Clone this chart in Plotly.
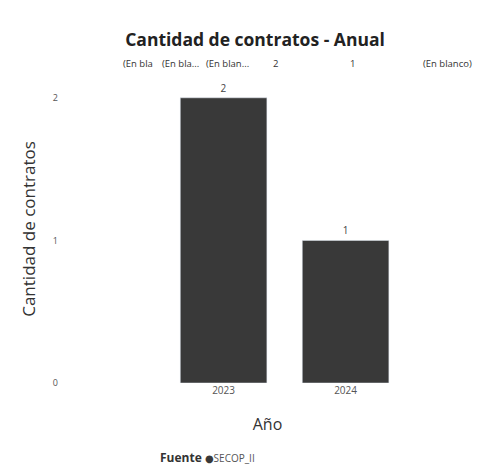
import plotly.graph_objects as go

years = ["2023", "2024"]
counts = [2, 1]
header_labels = ["(En bla", "(En bla...", "(En blan...", "2", "1", "(En blanco)"]
header_x = [138, 180, 227, 275, 352, 447]
legend_title = "Fuente"
legend_item = "SECOP_II"

bar_color = "#393939"
font_family = "Open Sans, DejaVu Sans, sans-serif"

L, R, T, B = 65, 30, 75, 92
W, H = 500, 475
pw, ph = W - L - R, H - T - B

fig = go.Figure()
fig.add_trace(go.Bar(
    x=years, y=counts, marker_color=bar_color, width=0.71,
    text=[str(c) for c in counts], textposition="outside",
    textfont=dict(size=10, color="#444"), cliponaxis=False,
    showlegend=False,
))

for lab, px in zip(header_labels, header_x):
    fig.add_annotation(text=lab, x=(px - L) / pw, y=(H - B - 63) / ph, xref="paper", yref="paper",
                       showarrow=False, font=dict(size=9.5, color="#333"),
                       xanchor="center", yanchor="middle")

fig.add_annotation(
    text=(f"<b>{legend_title}</b> <span style='color:{bar_color};font-size:10px'>●</span>"
          f"<span style='font-size:10px;color:#555'>{legend_item}</span>"),
    x=(207 - L) / pw, y=(H - B - 457) / ph, xref="paper", yref="paper",
    showarrow=False, font=dict(size=12, color="#333"), xanchor="center", yanchor="middle")

fig.update_layout(
    width=W, height=H,
    margin=dict(l=L, r=R, t=T, b=B, autoexpand=False),
    paper_bgcolor="white", plot_bgcolor="white",
    font=dict(family=font_family, color="#333"),
    title=dict(text="<b>Cantidad de contratos - Anual</b>", x=0.51, xanchor="center",
               y=1 - 40 / H, yanchor="middle", font=dict(size=17.5, color="#222")),
    xaxis=dict(type="category", range=[-1.3, 2.02], showgrid=False, zeroline=False,
               showline=False, ticks="", tickfont=dict(size=10, color="#555"),
               title=dict(text="Año", font=dict(size=16, color="#333"), standoff=22)),
    yaxis=dict(range=[0, 2.16], tickvals=[0, 1, 2], showgrid=False, zeroline=False,
               showline=False, ticks="", tickfont=dict(size=9, color="#555"), ticklabelstandoff=6,
               title=dict(text="Cantidad de contratos", font=dict(size=17, color="#333"), standoff=12)),
    showlegend=False,
)

fig.write_html("out.html", config={"displayModeBar": False},
               post_script="document.body.style.margin='0';")
